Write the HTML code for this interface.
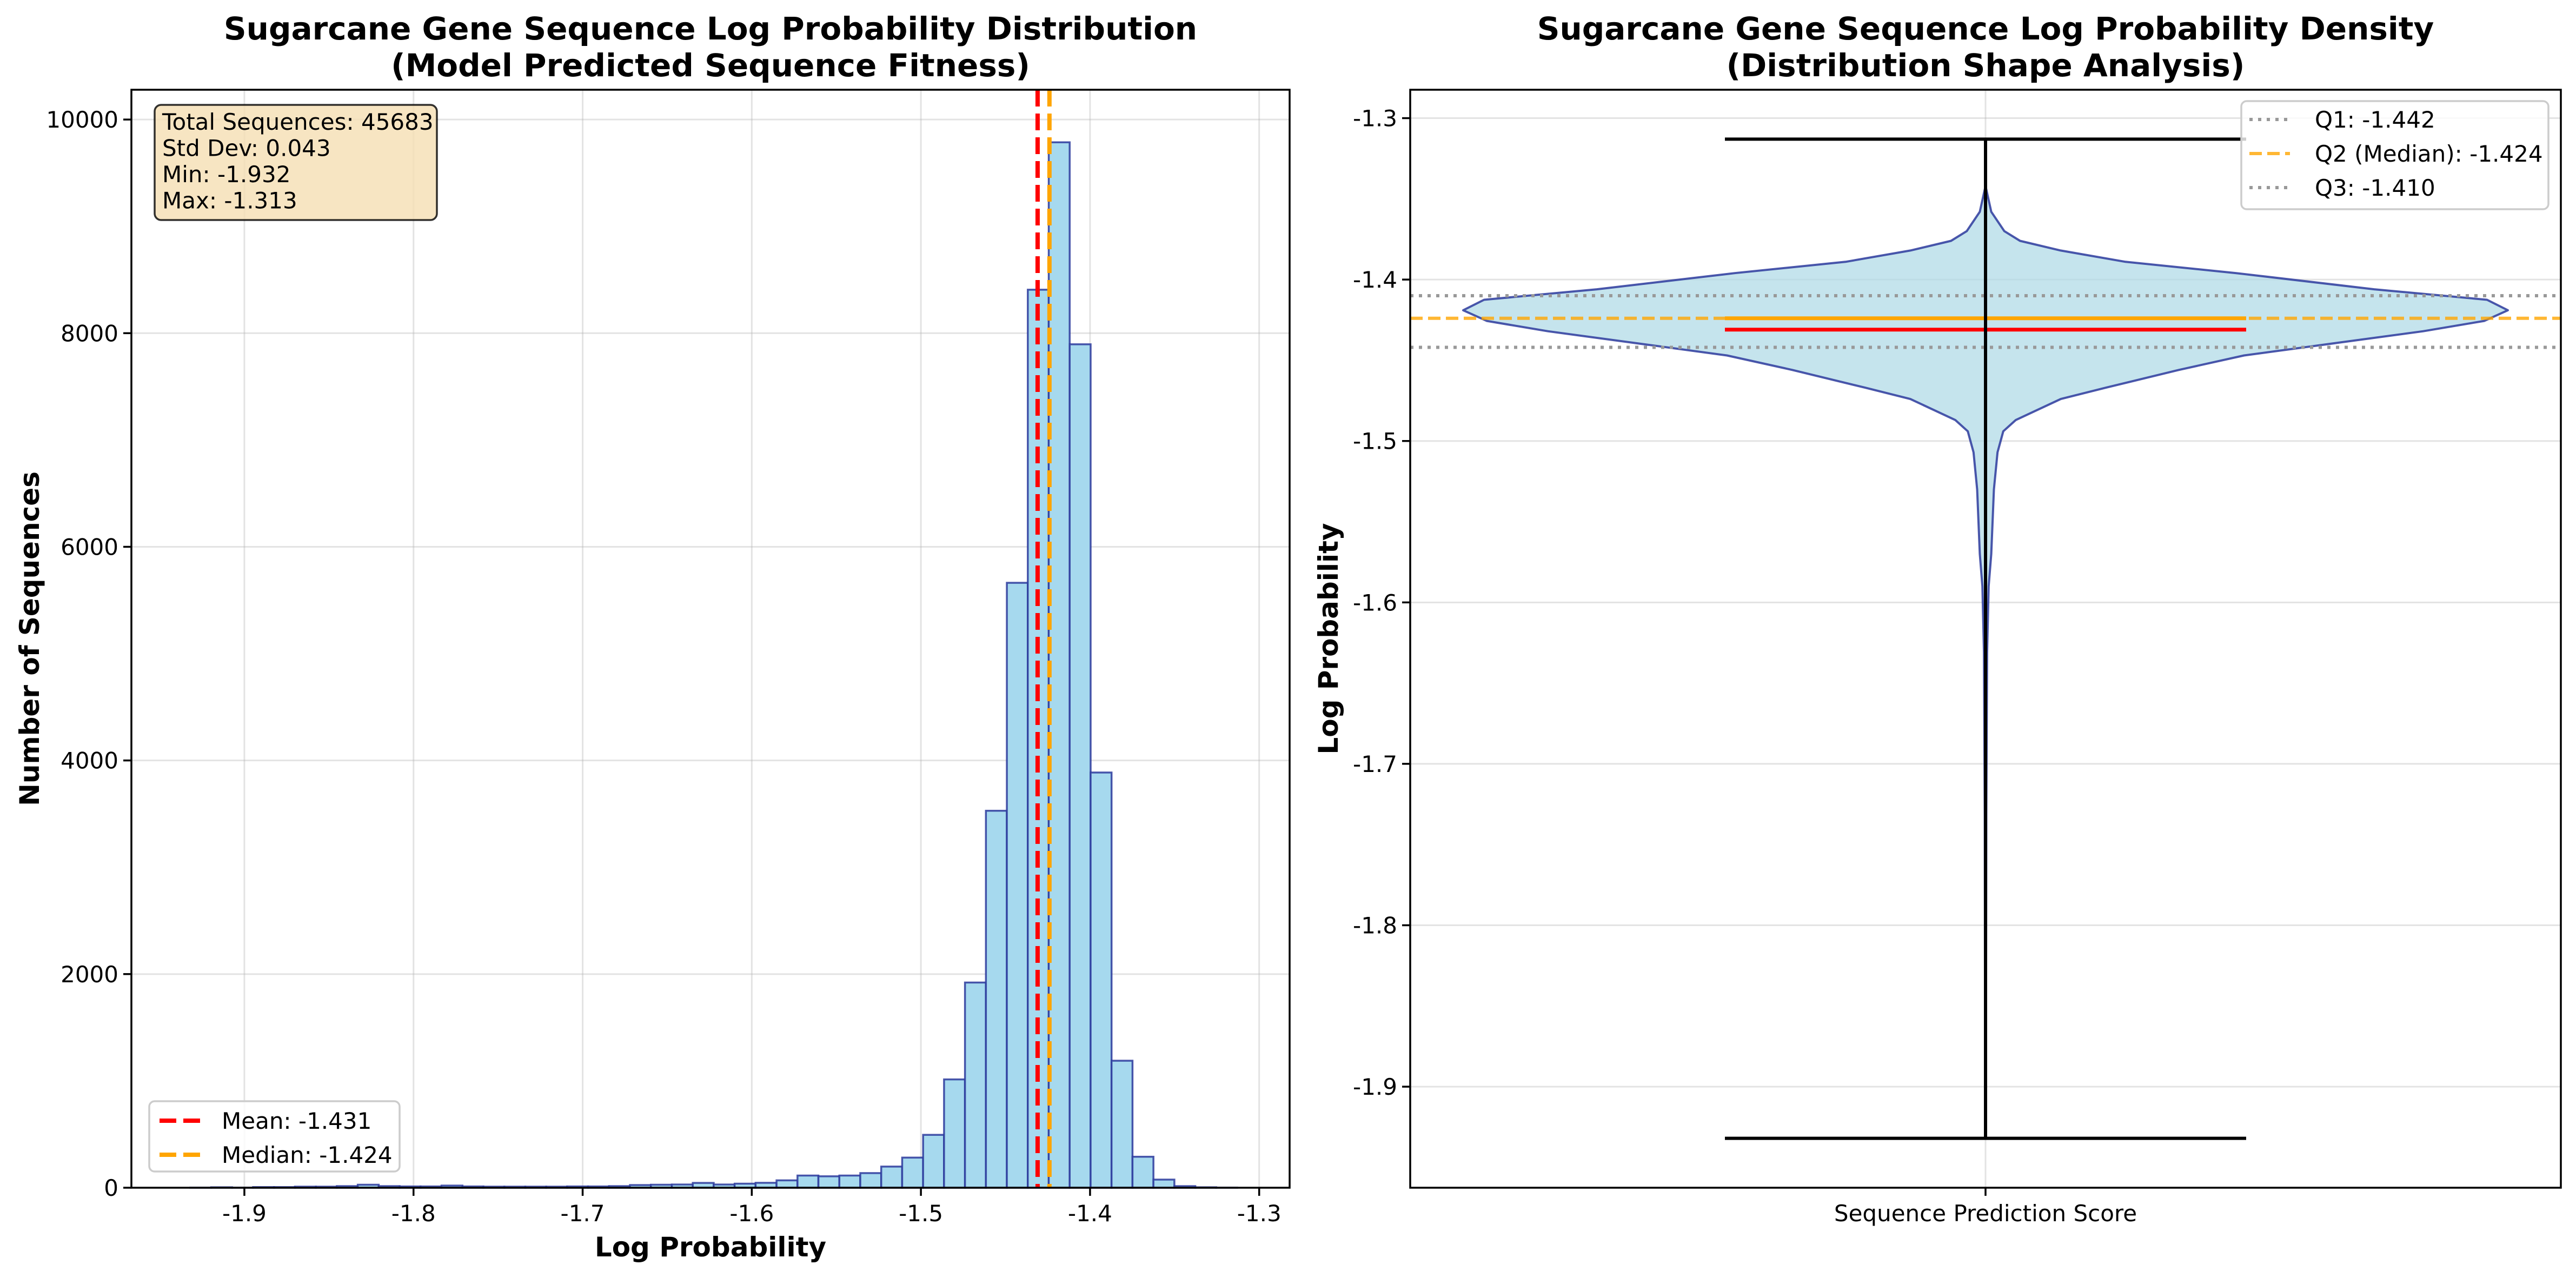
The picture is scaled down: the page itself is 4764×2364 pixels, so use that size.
<!DOCTYPE html>
<html><head><meta charset="utf-8">
<style>
html,body{margin:0;padding:0;background:#fff;}
svg{display:block;font-family:"DejaVu Sans","Liberation Sans",sans-serif;}
</style></head>
<body>
<svg id="fig" width="4764" height="2364" viewBox="0 0 4764 2364" xmlns="http://www.w3.org/2000/svg">
<rect width="4764" height="2364" fill="#fff"/>
<g id="left"></g>
<g id="right"></g>
</svg>
<script>
// ---------- Histogram data ----------
const binStart = -1.932;
const binWidth = 0.01238;
const counts = [1,4,1,6,6,10,10,15,28,15,12,12,20,12,10,10,10,10,12,12,15,25,28,30,45,30,38,46,69,114,107,114,137,198,282,495,1014,1921,3529,5663,8407,9787,7896,3887,1189,290,76,15,4,1];
const histXTicks = [-1.9,-1.8,-1.7,-1.6,-1.5,-1.4,-1.3];
const histYTicks = [0,2000,4000,6000,8000,10000];
const meanVal = -1.431;
const medianVal = -1.424;
const statLines = ["Total Sequences: 45683","Std Dev: 0.043","Min: -1.932","Max: -1.313"];

// ---------- Violin data ----------
const violinY = [-1.342,-1.358,-1.370,-1.376,-1.382,-1.389,-1.396,-1.406,-1.4125,-1.419,-1.4256,-1.432,-1.447,-1.456,-1.467,-1.474,-1.487,-1.494,-1.507,-1.530,-1.570,-1.590,-1.631,-1.731,-1.832,-1.931];
const violinW = [0,0.011,0.036,0.066,0.144,0.268,0.48,0.744,0.96,1.0,0.955,0.838,0.495,0.37,0.23,0.144,0.058,0.034,0.023,0.016,0.011,0.006,0.003,0.0015,0.001,0];
const vMin = -1.932, vMax = -1.313, vMean = -1.431, vMedian = -1.424;
const q1 = -1.442, q2 = -1.424, q3 = -1.410;
const violinYTicks = [-1.3,-1.4,-1.5,-1.6,-1.7,-1.8,-1.9];

const NS = "http://www.w3.org/2000/svg";
function mk(parent, tag, attrs, text){
  const e = document.createElementNS(NS, tag);
  for (const k in attrs) e.setAttribute(k, attrs[k]);
  if (text !== undefined) e.textContent = text;
  parent.appendChild(e);
  return e;
}
const fmt = v => v.toFixed(1).replace("-0.0","0.0");

// ===== Left panel =====
const L = document.getElementById('left');
const lx0 = 243, lx1 = 2385, ly0 = 166, ly1 = 2197;
const xMin = -1.9668, xMax = -1.282, yMaxL = 10279;
const sxL = v => lx0 + (v - xMin) / (xMax - xMin) * (lx1 - lx0);
const syL = v => ly1 - v / yMaxL * (ly1 - ly0);

histXTicks.forEach(t => {
  const g = mk(L,'line',{x1:sxL(t),x2:sxL(t),y1:ly0,y2:ly1,stroke:'#b0b0b0','stroke-opacity':0.35,'stroke-width':3});
  
  
});
histYTicks.forEach(t => {
  const g = mk(L,'line',{x1:lx0,x2:lx1,y1:syL(t),y2:syL(t),stroke:'#b0b0b0','stroke-opacity':0.35,'stroke-width':3});
  
  
});
counts.forEach((c,i) => {
  const a = binStart + i*binWidth, b = a + binWidth;
  const r = mk(L,'rect',{x:sxL(a),y:syL(c),width:sxL(b)-sxL(a),height:syL(0)-syL(c),fill:'#a6d9ee',stroke:'#2b3a9c','stroke-opacity':0.85,'stroke-width':3.5});
  
  
});
let ml = mk(L,'line',{x1:sxL(meanVal),x2:sxL(meanVal),y1:ly0,y2:ly1,stroke:'#ff0000','stroke-width':8,'stroke-dasharray':'31 13'});


let mdl = mk(L,'line',{x1:sxL(medianVal),x2:sxL(medianVal),y1:ly0,y2:ly1,stroke:'#ffa500','stroke-width':8,'stroke-dasharray':'31 13'});


let fr = mk(L,'rect',{x:lx0,y:ly0,width:lx1-lx0,height:ly1-ly0,fill:'none',stroke:'#000','stroke-width':3.5});


histXTicks.forEach(t => {
  mk(L,'line',{x1:sxL(t),x2:sxL(t),y1:ly1,y2:ly1+15,stroke:'#000','stroke-width':3.5});
  const tl = mk(L,'text',{x:sxL(t),y:ly1+62,'text-anchor':'middle','font-size':42},fmt(t));
  
  
});
histYTicks.forEach(t => {
  mk(L,'line',{x1:lx0-15,x2:lx0,y1:syL(t),y2:syL(t),stroke:'#000','stroke-width':3.5});
  const tl = mk(L,'text',{x:lx0-24,y:syL(t)+15,'text-anchor':'end','font-size':42},String(t));
  
  
});
let t1 = mk(L,'text',{x:(lx0+lx1)/2,y:73,'text-anchor':'middle','font-size':58,'font-weight':'bold'},'Sugarcane Gene Sequence Log Probability Distribution');


let t2 = mk(L,'text',{x:(lx0+lx1)/2,y:141,'text-anchor':'middle','font-size':58,'font-weight':'bold'},'(Model Predicted Sequence Fitness)');


let xl = mk(L,'text',{x:(lx0+lx1)/2,y:2324,'text-anchor':'middle','font-size':50,'font-weight':'bold'},'Log Probability');


let yl = mk(L,'text',{x:0,y:0,'text-anchor':'middle','font-size':50,'font-weight':'bold',transform:'translate(72,'+((ly0+ly1)/2)+') rotate(-90)'},'Number of Sequences');


let sb = mk(L,'rect',{x:286,y:194,width:522,height:213,rx:12,fill:'#f5deb3','fill-opacity':0.8,stroke:'#000','stroke-opacity':0.8,'stroke-width':3.5});


statLines.forEach((s,i) => {
  const st = mk(L,'text',{x:300,y:240+i*48.5,'font-size':42},s);
  
  
});
let lg = mk(L,'rect',{x:276,y:2037,width:463,height:130,rx:10,fill:'#fff','fill-opacity':0.8,stroke:'#cccccc','stroke-width':3.5});


[['#ff0000','Mean: -1.431',2073],['#ffa500','Median: -1.424',2136]].forEach(([c,s,y]) => {
  mk(L,'line',{x1:295,x2:372,y1:y,y2:y,stroke:c,'stroke-width':8,'stroke-dasharray':'31 13'});
  const lt = mk(L,'text',{x:410,y:y+15,'font-size':42},s);
  
  
});

// ===== Right panel =====
const R = document.getElementById('right');
const rx0 = 2608, rx1 = 4736, ry0 = 166, ry1 = 2197;
const yTop = -1.2824, yBot = -1.9626;
const syR = v => ry0 + (yTop - v) / (yTop - yBot) * (ry1 - ry0);
const cx = (rx0 + rx1) / 2;
const halfW = 966, capHalf = 482;

violinYTicks.forEach(t => {
  const g = mk(R,'line',{x1:rx0,x2:rx1,y1:syR(t),y2:syR(t),stroke:'#b0b0b0','stroke-opacity':0.35,'stroke-width':3});
  
  
});
mk(R,'line',{x1:cx,x2:cx,y1:ry0,y2:ry1,stroke:'#b0b0b0','stroke-opacity':0.35,'stroke-width':3});
let pts = [];
violinY.forEach((v,i) => pts.push((cx + violinW[i]*halfW).toFixed(1)+','+syR(v).toFixed(1)));
for (let i = violinY.length-1; i >= 0; i--) pts.push((cx - violinW[i]*halfW).toFixed(1)+','+syR(violinY[i]).toFixed(1));
let vb = mk(R,'polygon',{points:pts.join(' '),fill:'#add8e6','fill-opacity':0.7,stroke:'#2b3a9c','stroke-opacity':0.85,'stroke-width':4,'stroke-linejoin':'round'});


[[q3,'#999999','6 10','q3-line'],[q1,'#999999','6 10','q1-line']].forEach(([v,c,d,n]) => {
  const l = mk(R,'line',{x1:rx0,x2:rx1,y1:syR(v),y2:syR(v),stroke:c,'stroke-width':6,'stroke-dasharray':d});
  
  
});
let q2l = mk(R,'line',{x1:rx0,x2:rx1,y1:syR(q2),y2:syR(q2),stroke:'#ffa500','stroke-opacity':0.8,'stroke-width':6,'stroke-dasharray':'23 10'});


let vm = mk(R,'line',{x1:cx-capHalf,x2:cx+capHalf,y1:syR(vMedian),y2:syR(vMedian),stroke:'#ffa500','stroke-width':7});


let vmean = mk(R,'line',{x1:cx-capHalf,x2:cx+capHalf,y1:syR(vMean),y2:syR(vMean),stroke:'#ff0000','stroke-width':7});


let vbar = mk(R,'line',{x1:cx,x2:cx,y1:syR(vMax),y2:syR(vMin),stroke:'#000','stroke-width':6});


[[vMax,'violin-max-cap'],[vMin,'violin-min-cap']].forEach(([v,n]) => {
  const c = mk(R,'line',{x1:cx-capHalf,x2:cx+capHalf,y1:syR(v),y2:syR(v),stroke:'#000','stroke-width':6});
  
  
});
let fr2 = mk(R,'rect',{x:rx0,y:ry0,width:rx1-rx0,height:ry1-ry0,fill:'none',stroke:'#000','stroke-width':3.5});


violinYTicks.forEach(t => {
  mk(R,'line',{x1:rx0-15,x2:rx0,y1:syR(t),y2:syR(t),stroke:'#000','stroke-width':3.5});
  const tl = mk(R,'text',{x:rx0-24,y:syR(t)+15,'text-anchor':'end','font-size':42},fmt(t));
  
  
});
mk(R,'line',{x1:cx,x2:cx,y1:ry1,y2:ry1+15,stroke:'#000','stroke-width':3.5});
let xr = mk(R,'text',{x:cx,y:2259,'text-anchor':'middle','font-size':42},'Sequence Prediction Score');


let rt1 = mk(R,'text',{x:(rx0+rx1)/2,y:73,'text-anchor':'middle','font-size':58,'font-weight':'bold'},'Sugarcane Gene Sequence Log Probability Density');


let rt2 = mk(R,'text',{x:(rx0+rx1)/2,y:141,'text-anchor':'middle','font-size':58,'font-weight':'bold'},'(Distribution Shape Analysis)');


let ryl = mk(R,'text',{x:0,y:0,'text-anchor':'middle','font-size':50,'font-weight':'bold',transform:'translate(2474,'+((ry0+ry1)/2)+') rotate(-90)'},'Log Probability');


let rlg = mk(R,'rect',{x:4145,y:187,width:568,height:200,rx:10,fill:'#fff','fill-opacity':0.8,stroke:'#cccccc','stroke-width':3.5});


[['#999999','6 10',1,'Q1: -1.442',221],['#ffa500','23 10',0.8,'Q2 (Median): -1.424',284],['#999999','6 10',1,'Q3: -1.410',347]].forEach(([c,d,o,s,y]) => {
  mk(R,'line',{x1:4160,x2:4235,y1:y,y2:y,stroke:c,'stroke-opacity':o,'stroke-width':6,'stroke-dasharray':d});
  const lt = mk(R,'text',{x:4281,y:y+15,'font-size':42},s);
  
  
});
</script>
</body></html>
